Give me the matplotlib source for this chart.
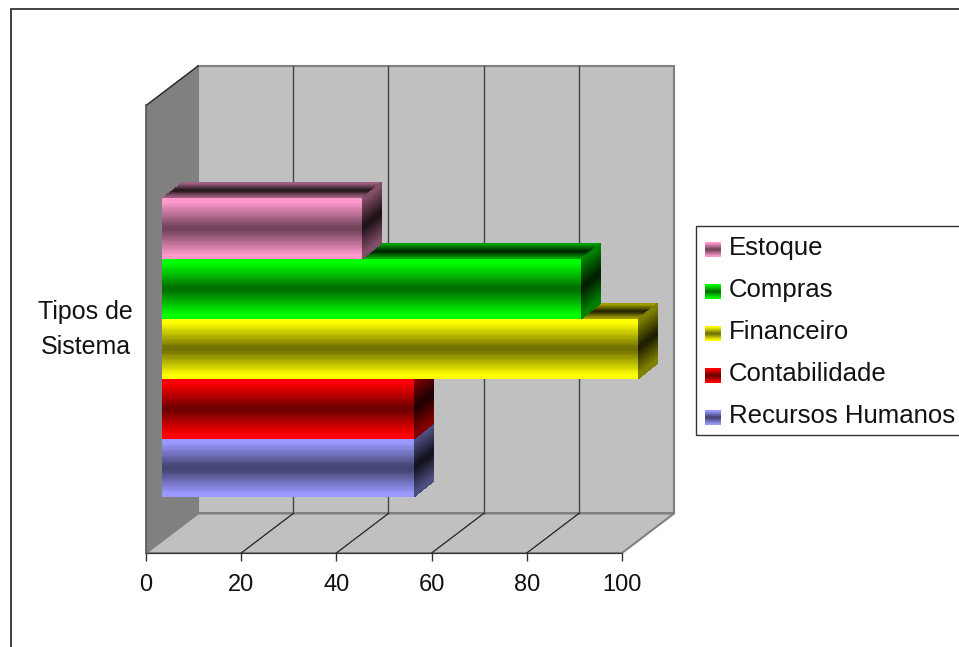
import numpy as np
import matplotlib
matplotlib.use("Agg")
import matplotlib.pyplot as plt
import matplotlib.colors as mcolors
from matplotlib.patches import Polygon, Rectangle

plt.rcParams["font.family"] = ["Liberation Sans", "DejaVu Sans"]

# ── Data ──────────────────────────────────────────────────────────────────────
SERIES = ["Estoque", "Compras", "Financeiro", "Contabilidade", "Recursos Humanos"]
VALUES = [42, 88, 100, 53, 53]
COLORS = ["#ff99cc", "#00ff00", "#ffff00", "#ff0000", "#9999ff"]
TICKS = [0, 20, 40, 60, 80, 100]
CATEGORY = "Tipos de\nSistema"

# ── Layout (pixels) ───────────────────────────────────────────────────────────
W, H = 959, 647
X0, X100 = 146, 622
FLOOR_Y, WALL_TOP = 553, 66
PX = (X100 - X0) / 100.0
DEPTH_X, DEPTH_Y = 52 / PX, 39.5          # box depth, x in axis units
BAR_X0 = 16 / PX                          # bars start a bit behind the front plane
BAR_DX, BAR_DY = 20 / PX, 15.5
BAND_EDGES = [198, 259, 319, 379, 439, 497]
EDGE, DARK = "#808080", "#333333"

fig = plt.figure(figsize=(W / 100, H / 100), dpi=100, facecolor="white")
# y stays in pixels, x is the value axis on the front plane
ax = fig.add_axes([X0 / W, 1 - FLOOR_Y / H, (X100 - X0) / W, (FLOOR_Y - WALL_TOP) / H])
ax.set_xlim(0, 100)
ax.set_ylim(FLOOR_Y, WALL_TOP)
ax.patch.set_visible(False)
for name, sp in ax.spines.items():
    sp.set_visible(name == "bottom")
ax.spines["bottom"].set_color(DARK)
ax.spines["bottom"].set_zorder(30)
ax.set_yticks([])
ax.set_xticks(TICKS)
ax.tick_params(axis="x", length=6, width=1, color=DARK, labelsize=17, pad=9, labelcolor="#111111")


def shade(color, mid, n=48):
    """Metallic gradient: full colour at both edges, darkest in the middle."""
    rgb = np.array(mcolors.to_rgb(color))
    u = (np.arange(n) + 0.5) / n
    t = np.clip(np.abs(2 * u - 1) * 1.25 - 0.08, 0, 1)
    return (mid + (1 - mid) * t)[:, None] * rgb


def face(xs, ys, rgb, z):
    """Paint one shaded four-sided face, one colour per row."""
    ax.pcolormesh(xs, ys, rgb[:, None, :], shading="flat", zorder=z,
                  antialiased=False, clip_on=False, rasterized=True)


# ── Box: walls and floor ──────────────────────────────────────────────────────
ax.add_patch(Polygon([(DEPTH_X, WALL_TOP), (100 + DEPTH_X, WALL_TOP),
                      (100 + DEPTH_X, FLOOR_Y - DEPTH_Y), (DEPTH_X, FLOOR_Y - DEPTH_Y)],
                     fc="#c0c0c0", ec=EDGE, lw=1.5, zorder=1, clip_on=False))
ax.add_patch(Polygon([(0, WALL_TOP + DEPTH_Y), (DEPTH_X, WALL_TOP),
                      (DEPTH_X, FLOOR_Y - DEPTH_Y), (0, FLOOR_Y)],
                     fc="#808080", ec="none", zorder=1, clip_on=False))
ax.plot([0, DEPTH_X], [WALL_TOP + DEPTH_Y, WALL_TOP], color="#222222", lw=1, zorder=2, clip_on=False)
ax.plot([0, 0], [WALL_TOP + DEPTH_Y, FLOOR_Y], color="#555555", lw=1.2, zorder=2, clip_on=False)
ax.add_patch(Polygon([(0, FLOOR_Y), (100, FLOOR_Y), (100 + DEPTH_X, FLOOR_Y - DEPTH_Y),
                      (DEPTH_X, FLOOR_Y - DEPTH_Y)],
                     fc="#c0c0c0", ec=EDGE, lw=1.5, zorder=1, clip_on=False))
for v in TICKS[1:-1]:
    ax.plot([v + DEPTH_X] * 2, [WALL_TOP, FLOOR_Y - DEPTH_Y], color="#444444", lw=1, zorder=2, clip_on=False)
    ax.plot([v, v + DEPTH_X], [FLOOR_Y, FLOOR_Y - DEPTH_Y], color="#222222", lw=0.9, zorder=2, clip_on=False)

# ── Bars, lowest first so each one covers the top face below it ───────────────
n = 48
s = np.linspace(0, 1, n + 1)[:, None]
for i in reversed(range(len(SERIES))):
    top, bot = BAND_EDGES[i], BAND_EDGES[i + 1]
    x0 = BAR_X0
    x1 = BAR_X0 + VALUES[i]
    z = 10 + (len(SERIES) - i) * 2
    color = COLORS[i]
    # top face, running from the back edge down to the front edge
    xs = np.hstack([x0 + BAR_DX * (1 - s), x1 + BAR_DX * (1 - s)])
    ys = np.hstack([top - BAR_DY * (1 - s)] * 2)
    face(xs, ys, shade(color, 0.25) * 0.62, z)
    # end face
    xs = np.hstack([np.full_like(s, x1), np.full_like(s, x1 + BAR_DX)])
    ys = np.hstack([top + (bot - top) * s, top - BAR_DY + (bot - top) * s])
    face(xs, ys, shade(color, 0.25) * 0.5, z)
    # front face
    xf = np.array([[x0, x1]] * (n + 1), dtype=float)
    yf = np.hstack([top + (bot - top) * s] * 2)
    face(xf, yf, shade(color, 0.45), z + 1)

# ── Category label ────────────────────────────────────────────────────────────
fig.text(85.5 / W, 1 - 329.5 / H, CATEGORY, ha="center", va="center", fontsize=18,
         linespacing=1.62, color="#111111")

# ── Outer frame and legend, both run off the right edge ───────────────────────
overlay = fig.add_axes([0, 0, 1, 1], zorder=50)
overlay.axis("off")
overlay.plot([10.5, 10.5, W + 5], [H + 5, 8.5, 8.5], color=DARK, lw=1.3, solid_joinstyle="miter")
overlay.add_patch(Rectangle((695.5, 226), 300, 209, fc="white", ec=DARK, lw=1))
for i, name in enumerate(SERIES):
    yc = 247 + 42 * i
    overlay.imshow(shade(COLORS[i], 0.45, 15)[:, None, :], extent=(705, 721, yc + 10, yc - 5),
                   aspect="auto", interpolation="nearest", zorder=3)
    overlay.text(729, yc + 1, name, ha="left", va="center", fontsize=18.5, color="#111111")
overlay.set_xlim(0, W)
overlay.set_ylim(H, 0)

fig.savefig("out.png", dpi=100, facecolor="white")
